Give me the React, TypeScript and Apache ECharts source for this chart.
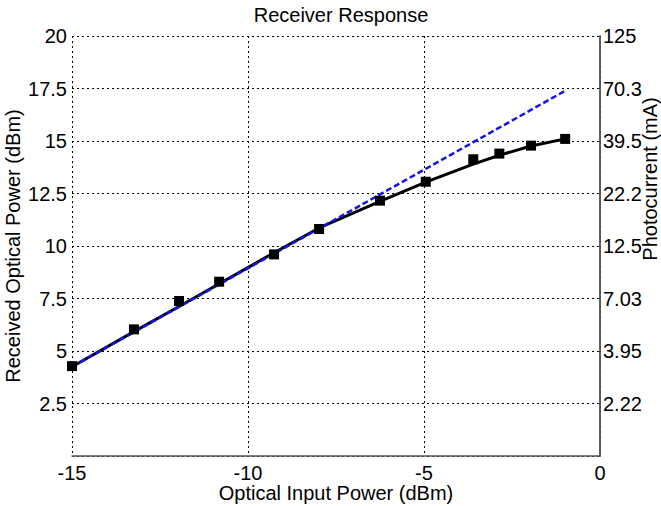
import React, { useEffect, useRef } from "react";
import * as echarts from "echarts";

const inputPower = [-15, -13.24, -11.96, -10.82, -9.26, -7.98, -6.25, -4.95, -3.6, -2.86, -1.96, -0.99];
const measuredPower = [4.28, 6.03, 7.38, 8.3, 9.6, 10.81, 12.16, 13.06, 14.13, 14.4, 14.78, 15.1];
const fittedPower = [4.25, 5.92, 7.12, 8.2, 9.68, 10.86, 12.12, 13.04, 13.9, 14.32, 14.76, 15.1];
const linearX = [-15, -0.99];
const linearY = [4.25, 17.39];
const photocurrentLabels = ["", "2.22", "3.95", "7.03", "12.5", "22.2", "39.5", "70.3", "125"];

const FONT = "'Liberation Sans', Arial, sans-serif";
const FS = 20;

export default function App() {
  const ref = useRef<HTMLDivElement>(null);
  useEffect(() => {
    if (!ref.current) return;
    const chart = echarts.init(ref.current, undefined, { renderer: "svg" });
    const gridLine = { show: true, lineStyle: { color: "#000", type: [2, 3] as any, width: 1 } };
    const axisLine = { show: true, lineStyle: { color: "#555", width: 1.5 } };
    const nameStyle = (text: string) => ({
      text,
      fontFamily: FONT,
      fontSize: FS,
      lineHeight: 20,
      fill: "#000",
      align: "center",
      verticalAlign: "middle",
    });
    chart.setOption({
      animation: false,
      backgroundColor: "#fff",
      textStyle: { fontFamily: FONT },
      title: {
        text: "Receiver Response",
        left: 336,
        top: 0,
        textAlign: "center",
        textStyle: { fontFamily: FONT, fontSize: FS, fontWeight: "normal", color: "#000" },
      },
      grid: { left: 72, right: 61, top: 36, bottom: 50, containLabel: false, outerBoundsMode: "none" },
      xAxis: {
        type: "value",
        min: -15,
        max: 0,
        interval: 5,
        axisLine,
        axisTick: { show: false },
        axisLabel: { fontFamily: FONT, fontSize: FS, lineHeight: 20, color: "#000", margin: 7 },
        splitLine: gridLine,
      },
      yAxis: [
        {
          type: "value",
          min: 0,
          max: 20,
          interval: 2.5,
          position: "left",
          axisLine,
          axisTick: { show: false },
          axisLabel: {
            fontFamily: FONT,
            fontSize: FS,
            color: "#000",
            margin: 5,
            formatter: (v: number) => (v === 0 ? "" : String(v)),
          },
          splitLine: gridLine,
        },
        {
          type: "value",
          min: 0,
          max: 20,
          interval: 2.5,
          position: "right",
          axisLine,
          axisTick: { show: false },
          axisLabel: {
            fontFamily: FONT,
            fontSize: FS,
            color: "#000",
            margin: 3,
            formatter: (v: number) => photocurrentLabels[Math.round(v / 2.5)] ?? "",
          },
          splitLine: { show: false },
        },
      ],
      graphic: [
        { type: "text", x: 336, y: 493, style: nameStyle("Optical Input Power (dBm)") },
        { type: "text", x: 13, y: 246, rotation: Math.PI / 2, style: nameStyle("Received Optical Power (dBm)") },
        { type: "text", x: 650, y: 179, rotation: Math.PI / 2, style: nameStyle("Photocurrent (mA)") },
      ],
      series: [
        {
          type: "line",
          data: inputPower.map((x, i) => [x, fittedPower[i]]),
          showSymbol: false,
          lineStyle: { color: "#000", width: 3 },
          itemStyle: { color: "#000" },
          z: 2,
        },
        {
          type: "line",
          data: linearX.map((x, i) => [x, linearY[i]]),
          showSymbol: false,
          lineStyle: { color: "#1414e6", width: 2.5, type: [6, 3] as any },
          itemStyle: { color: "#1414e6" },
          z: 3,
        },
        {
          type: "scatter",
          data: inputPower.map((x, i) => [x, measuredPower[i]]),
          symbol: "rect",
          symbolSize: 10,
          itemStyle: { color: "#000", opacity: 1 },
          z: 4,
        },
      ],
    });
    return () => chart.dispose();
  }, []);
  return (
    <div
      ref={ref}
      style={{ position: "fixed", left: 0, top: 0, width: 661, height: 506 }}
    />
  );
}
